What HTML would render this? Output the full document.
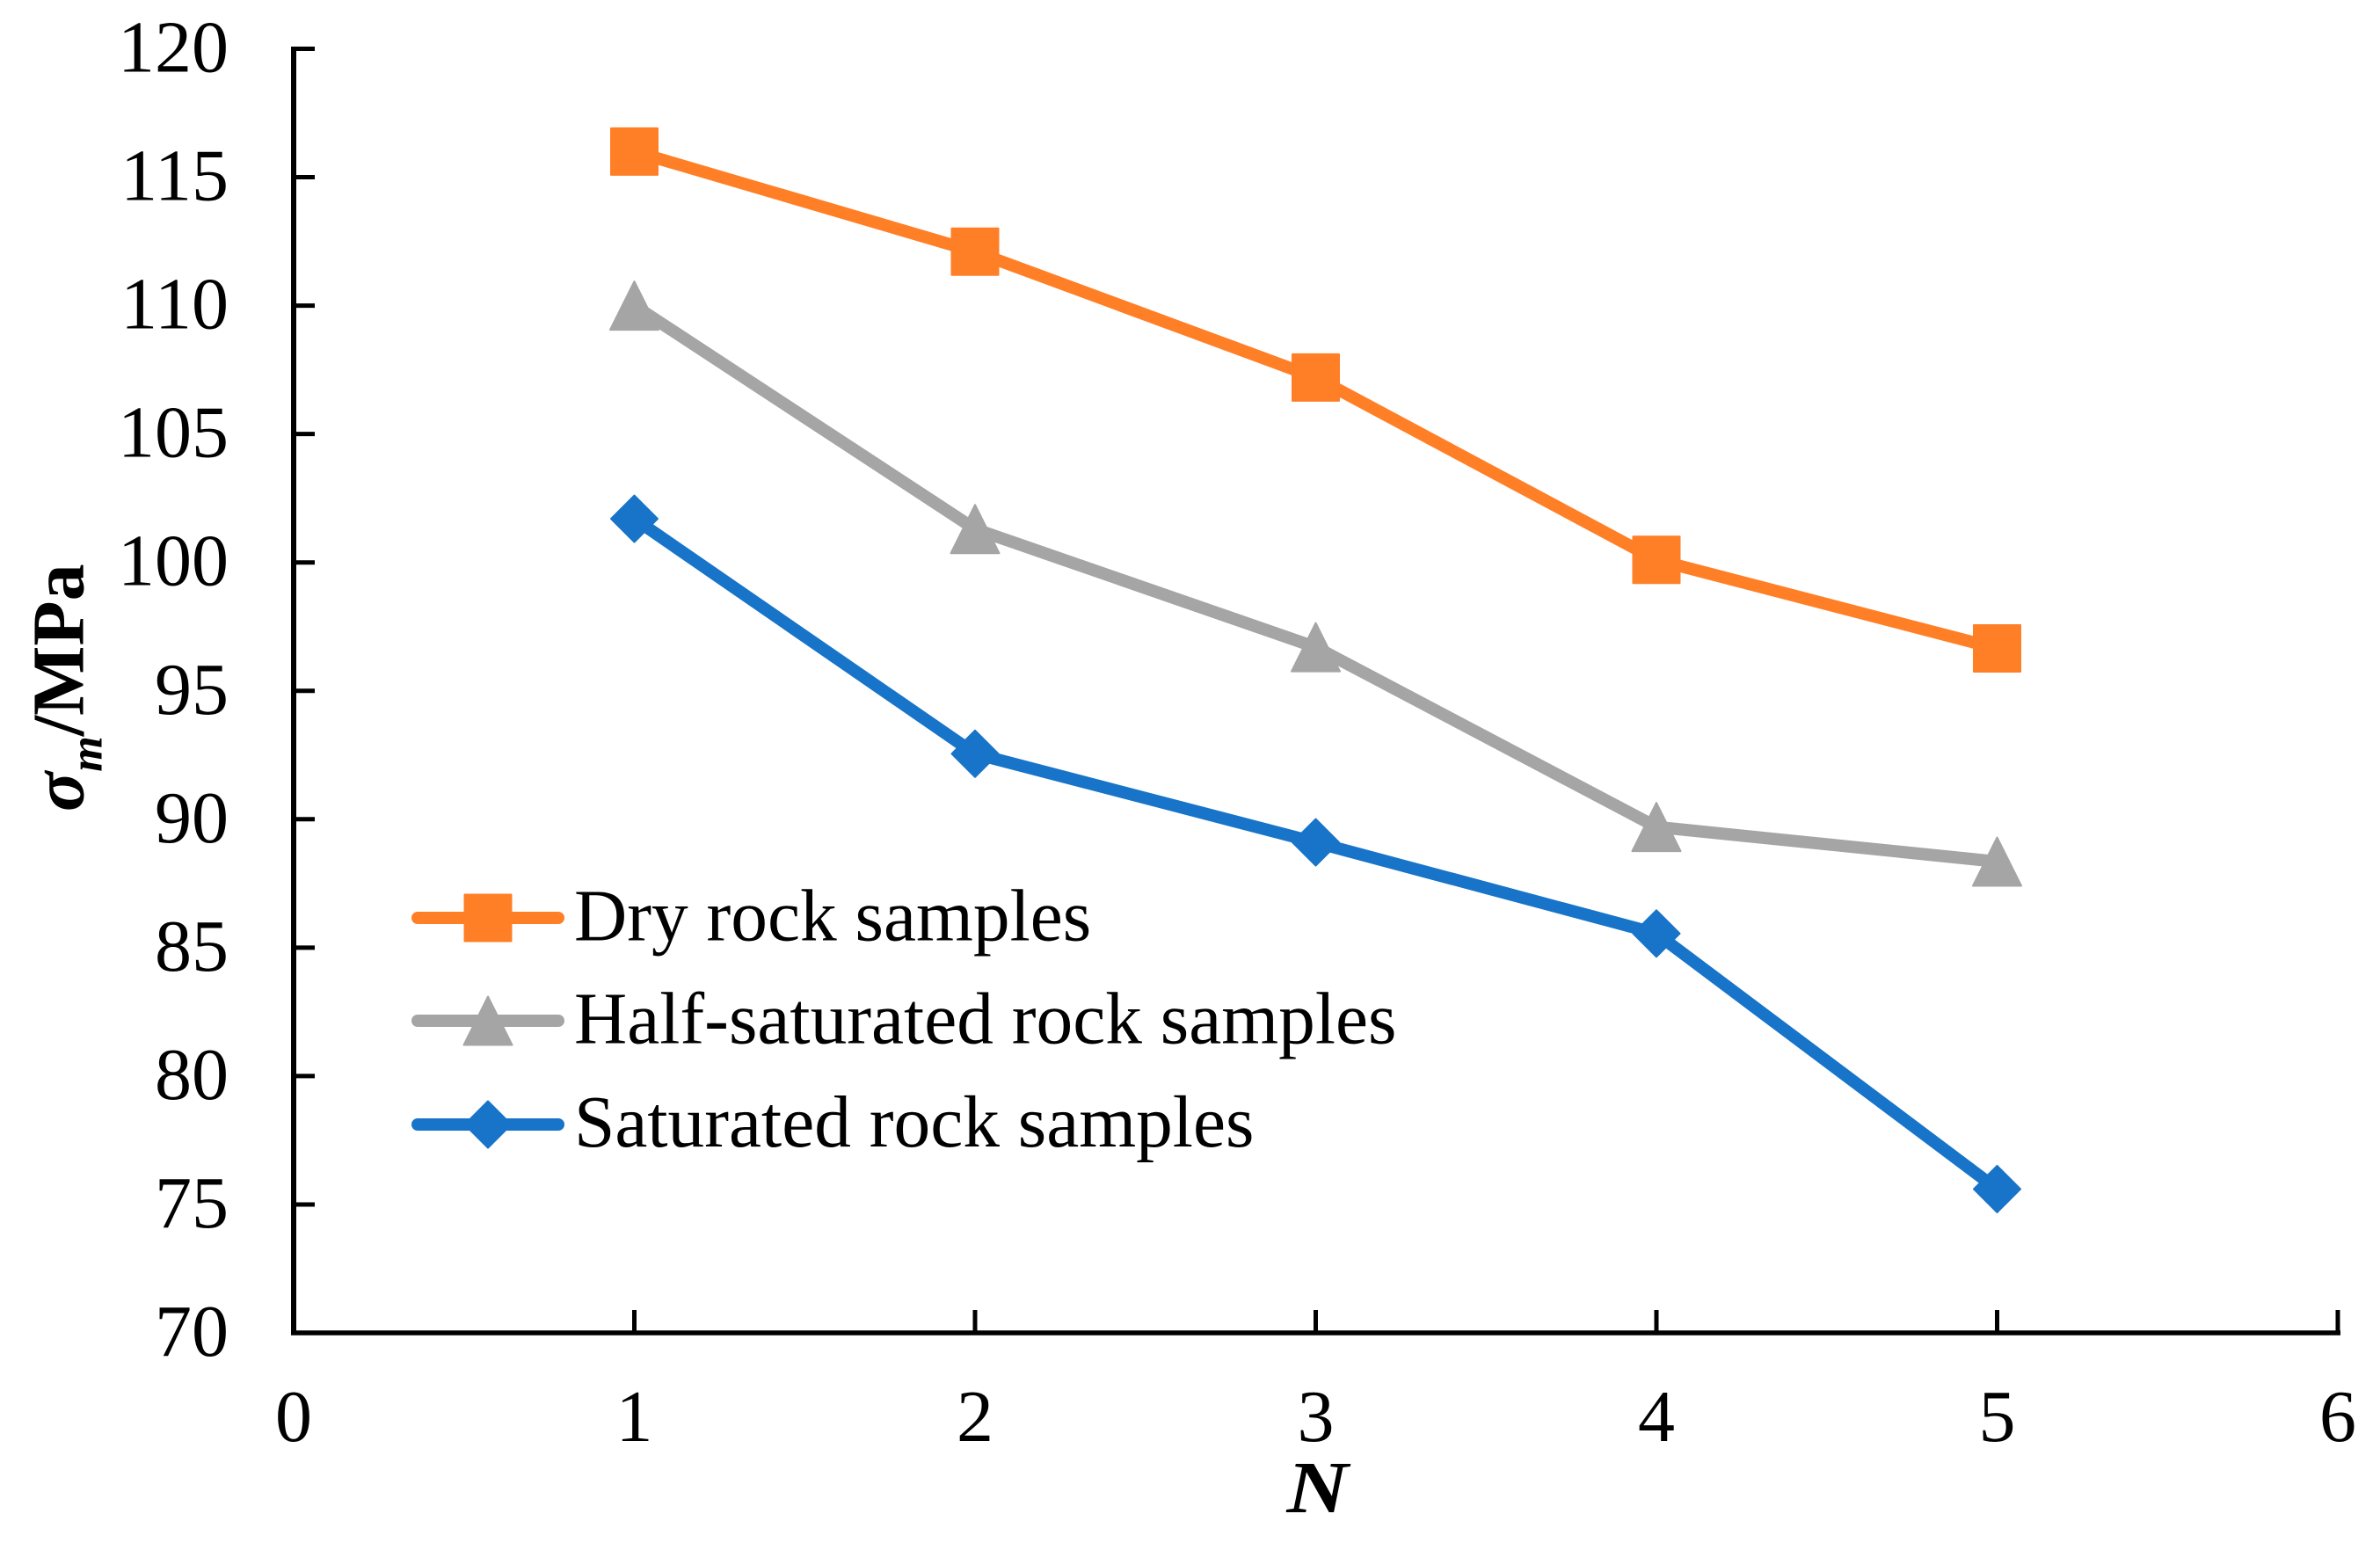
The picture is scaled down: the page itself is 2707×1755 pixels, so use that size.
<!DOCTYPE html>
<html lang="en">
<head>
<meta charset="utf-8">
<title>Peak strength versus cycle count</title>
<style>
  html, body { margin: 0; padding: 0; background: #ffffff; }
  svg { display: block; }
  text { font-family: "Liberation Serif", "Times New Roman", serif; fill: #000000; }
</style>
</head>
<body>
<svg id="chart" xmlns="http://www.w3.org/2000/svg" width="2707" height="1755" viewBox="0 0 2707 1755">
  <rect x="0" y="0" width="2707" height="1755" fill="#ffffff"/>
  <g id="axes"></g>
  <g id="series"></g>
  <g id="legend"></g>
  <text x="1498.5" y="1720" font-size="84" font-weight="bold" font-style="italic" text-anchor="middle" textLength="70" lengthAdjust="spacingAndGlyphs">N</text>
  <text transform="translate(94.5,923) rotate(-90)" font-size="84" font-weight="bold"><tspan font-style="italic">σ</tspan><tspan font-style="italic" font-size="52" dy="21">m</tspan><tspan dy="-21">/MPa</tspan></text>
</svg>
<script>
const xTicks = [0, 1, 2, 3, 4, 5, 6];
const yTicks = [70, 75, 80, 85, 90, 95, 100, 105, 110, 115, 120];
const categories = [1, 2, 3, 4, 5];
const dryValues = [116, 112.1, 107.2, 100.1, 96.65];
const halfSaturatedValues = [110, 101.3, 96.7, 89.7, 88.35];
const saturatedValues = [101.7, 92.55, 89.1, 85.55, 75.6];
const legendLabels = ['Dry rock samples', 'Half-saturated rock samples', 'Saturated rock samples'];

const NS = 'http://www.w3.org/2000/svg';
const plot = { left: 334, right: 2659, top: 55.5, bottom: 1516 };
const xDomain = [0, 6];
const yDomain = [70, 120];
const FONT = 84;
const LEGEND_FONT = 83.4;
const ORANGE = '#ff7f27';
const GRAY = '#a5a5a5';
const BLUE = '#1874c8';
const HALF = 27.5;

function xScale(v) {
  return plot.left + (v - xDomain[0]) / (xDomain[1] - xDomain[0]) * (plot.right - plot.left);
}
function yScale(v) {
  return plot.bottom - (v - yDomain[0]) / (yDomain[1] - yDomain[0]) * (plot.bottom - plot.top);
}
function make(tag, attrs, parent) {
  const el = document.createElementNS(NS, tag);
  for (const k in attrs) el.setAttribute(k, attrs[k]);
  parent.appendChild(el);
  return el;
}
function markerPath(shape, cx, cy) {
  const h = HALF;
  if (shape === 'square') {
    return `M${cx - h + 1} ${cy - h + 1}H${cx + h - 1}V${cy + h - 1}H${cx - h + 1}Z`;
  }
  if (shape === 'triangle') {
    return `M${cx} ${cy - h}L${cx + h} ${cy + h}H${cx - h}Z`;
  }
  return `M${cx} ${cy - h + 1}L${cx + h - 1} ${cy}L${cx} ${cy + h - 1}L${cx - h + 1} ${cy}Z`;
}

const axes = document.getElementById('axes');

const yAxisLine = make('line', { x1: xScale(0), x2: xScale(0), y1: plot.top - 2.5, y2: plot.bottom + 2.5, stroke: '#000', 'stroke-width': 6 }, axes);



const xAxisLine = make('line', { x1: plot.left - 3, x2: plot.right + 3, y1: plot.bottom, y2: plot.bottom, stroke: '#000', 'stroke-width': 5.5 }, axes);



yTicks.forEach((v) => {
  const y = yScale(v);
  const tick = make('line', { x1: plot.left, x2: plot.left + 24, y1: y, y2: y, stroke: '#000', 'stroke-width': 5 }, axes);
  
  
  const label = make('text', { x: 260, y: y + 26, 'font-size': FONT, 'text-anchor': 'end' }, axes);
  
  
  label.textContent = String(v);
});

xTicks.forEach((v) => {
  const x = xScale(v);
  const tick = make('line', { x1: x, x2: x, y1: plot.bottom - 26, y2: plot.bottom, stroke: '#000', 'stroke-width': 5 }, axes);
  
  
  const label = make('text', { x: x, y: 1639, 'font-size': FONT, 'text-anchor': 'middle' }, axes);
  
  
  label.textContent = String(v);
});

const seriesLayer = document.getElementById('series');

function drawSeries(values, color, shape, seriesName) {
  const g = make('g', {}, seriesLayer);
  
  
  const d = values.map((v, i) => (i ? 'L' : 'M') + xScale(categories[i]) + ' ' + yScale(v)).join('');
  const line = make('path', { d: d, fill: 'none', stroke: color, 'stroke-width': 14, 'stroke-linejoin': 'round', 'stroke-linecap': 'round' }, g);
  
  
  values.forEach((v, i) => {
    const marker = make('path', { d: markerPath(shape, xScale(categories[i]), yScale(v)), fill: color, stroke: color, 'stroke-width': 2, 'stroke-linejoin': 'round' }, g);
    
    
  });
}

drawSeries(dryValues, ORANGE, 'square', 'dry-rock-series');
drawSeries(halfSaturatedValues, GRAY, 'triangle', 'half-saturated-rock-series');
drawSeries(saturatedValues, BLUE, 'diamond', 'saturated-rock-series');

const legend = document.getElementById('legend');

function drawLegendEntry(label, color, shape, y, textY) {
  const g = make('g', {}, legend);
  
  
  const swatch = make('line', { x1: 475, x2: 635, y1: y, y2: y, stroke: color, 'stroke-width': 14, 'stroke-linecap': 'round' }, g);
  
  
  const marker = make('path', { d: markerPath(shape, 555, y), fill: color, stroke: color, 'stroke-width': 2, 'stroke-linejoin': 'round' }, g);
  
  
  const text = make('text', { x: 653, y: textY, 'font-size': LEGEND_FONT }, g);
  
  
  text.textContent = label;
}

drawLegendEntry(legendLabels[0], ORANGE, 'square', 1044, 1069.5);
drawLegendEntry(legendLabels[1], GRAY, 'triangle', 1161, 1186.5);
drawLegendEntry(legendLabels[2], BLUE, 'diamond', 1279, 1304);
</script>
</body>
</html>
